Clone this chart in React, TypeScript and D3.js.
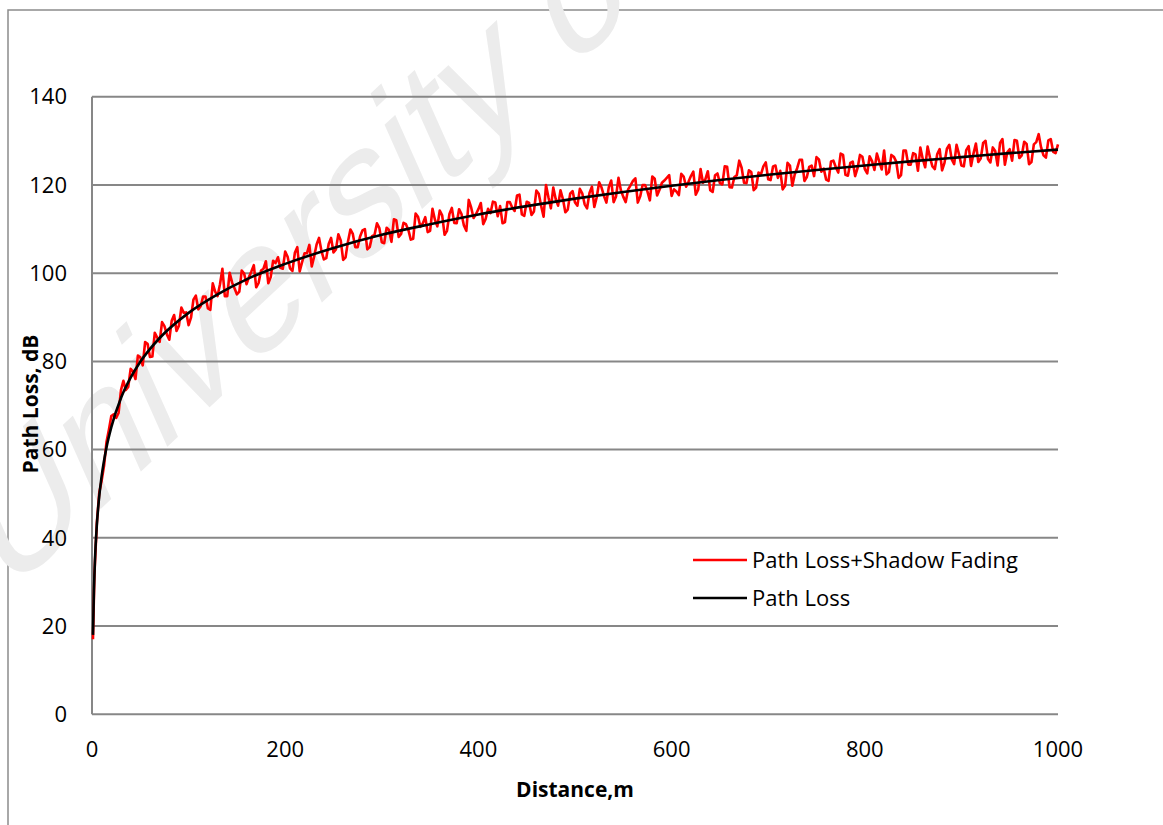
import * as d3 from "d3";

// Path Loss (black) read at selected distances
const lossDistance = [1, 2, 3, 5, 7, 10, 15, 20, 30, 40, 50, 70, 100, 130, 160, 200, 250, 300, 350, 400, 450, 500, 550, 600, 650, 700, 750, 800, 850, 900, 950, 1000];
const lossValues = [18, 28.1, 34.7, 42.9, 48.3, 54, 60.5, 65.1, 71.7, 76.3, 79.9, 85.3, 91, 95.2, 98.6, 102.1, 105.7, 108.7, 111.1, 113.3, 115.2, 116.9, 118.4, 119.8, 121.1, 122.3, 123.4, 124.4, 125.4, 126.3, 127.2, 128];

// Path Loss + Shadow Fading (red), read at 1 m, then every 5 m
const fadingDistance = [1, ...d3.range(5, 1001, 5)];
const fadingValues = [
  17.0,
  43.4, 53.0, 61.7, 67.6, 67.2, 73.5, 73.5, 78.3, 76.0, 80.9, 84.4, 81.0, 86.5, 84.4, 88.0, 84.9, 90.5, 88.1, 91.0, 88.2,
  94.0, 91.8, 94.7, 92.0, 97.7, 94.8, 101.0, 94.8, 97.9, 95.2, 100.6, 97.5, 100.4, 96.8, 100.6, 102.7, 99.1, 102.3, 101.2, 104.9,
  101.1, 104.6, 100.4, 104.5, 106.4, 103.8, 108.0, 103.1, 106.6, 104.7, 108.8, 103.0, 107.2, 108.9, 105.9, 109.7, 105.4, 108.4, 111.3, 107.0,
  110.3, 107.1, 112.0, 108.9, 111.1, 107.6, 113.5, 110.5, 112.7, 109.6, 112.1, 114.2, 108.7, 113.4, 111.4, 114.5, 110.8, 116.6, 112.5, 114.5,
  111.1, 114.6, 116.2, 112.9, 111.3, 116.1, 114.9, 117.6, 113.3, 116.2, 113.2, 118.7, 115.2, 120.0, 114.7, 116.8, 118.8, 113.8, 118.0, 116.0,
  119.1, 115.6, 118.2, 115.0, 120.6, 117.5, 119.5, 116.1, 121.6, 117.3, 119.0, 120.9, 116.0, 120.0, 118.5, 121.9, 117.6, 120.5, 121.6, 117.5,
  118.5, 122.5, 119.6, 122.0, 117.8, 123.6, 121.3, 118.8, 122.2, 120.4, 124.2, 119.5, 121.8, 125.5, 120.5, 123.3, 118.8, 122.8, 124.2, 121.3,
  124.2, 121.6, 119.0, 125.0, 119.8, 123.8, 125.7, 121.8, 124.4, 126.3, 123.0, 121.2, 125.3, 124.0, 127.1, 122.3, 125.0, 122.0, 126.8, 123.6,
  126.5, 123.4, 125.3, 127.8, 122.9, 126.4, 121.6, 127.8, 124.6, 127.2, 123.2, 125.9, 128.7, 124.2, 127.0, 123.3, 128.2, 125.8, 129.1, 124.4,
  127.9, 124.3, 129.4, 126.0, 130.0, 125.1, 127.7, 129.5, 124.6, 128.1, 130.2, 126.1, 129.8, 124.7, 129.2, 131.5, 126.7, 130.1, 127.5, 129.2,
];

// ...and the in-between samples at 2.5, 7.5, ... 997.5 m
const fadingMidDistance = d3.range(2.5, 1000, 5);
const fadingMidValues = [
  31.7, 50.2, 56.4, 64.5, 68.0, 68.3, 75.6, 74.2, 77.7, 81.3, 79.1, 84.0, 81.1, 85.4, 88.9, 86.1, 89.2, 86.9, 92.2, 91.1,
  89.9, 94.9, 92.5, 94.7, 91.7, 95.8, 97.5, 94.8, 100.1, 96.6, 95.8, 99.9, 99.1, 101.8, 97.8, 101.0, 97.7, 102.8, 103.6, 101.0,
  103.7, 100.5, 105.9, 102.5, 104.5, 101.5, 106.5, 105.1, 103.4, 108.0, 105.4, 107.4, 103.6, 109.9, 105.9, 108.3, 110.0, 105.9, 108.7, 110.2,
  106.8, 109.8, 112.2, 108.2, 111.4, 109.8, 107.8, 112.8, 111.3, 109.3, 114.6, 110.6, 113.1, 109.6, 114.8, 111.3, 113.4, 109.6, 114.9, 113.4,
  115.9, 112.3, 113.6, 116.0, 115.2, 111.6, 116.1, 114.1, 117.8, 113.0, 115.9, 114.0, 118.0, 112.8, 117.2, 119.4, 115.3, 116.8, 114.4, 118.6,
  115.3, 118.1, 114.7, 119.6, 117.2, 119.4, 116.0, 121.0, 117.4, 118.8, 116.1, 119.9, 121.5, 117.4, 120.0, 116.5, 121.4, 118.9, 121.0, 122.2,
  119.0, 117.7, 121.9, 120.7, 123.0, 118.9, 120.5, 123.1, 118.4, 122.6, 120.1, 124.1, 119.4, 122.2, 123.9, 120.4, 122.9, 119.4, 122.4, 125.1,
  121.1, 124.4, 123.2, 119.8, 124.4, 122.4, 125.7, 120.9, 124.1, 122.0, 125.8, 123.7, 120.9, 125.5, 122.8, 126.8, 122.1, 125.3, 123.8, 126.4,
  122.6, 125.4, 127.1, 123.5, 122.4, 126.8, 125.3, 122.2, 127.8, 124.6, 126.9, 128.5, 124.0, 126.2, 123.6, 128.1, 125.0, 129.1, 124.7, 127.0,
  124.2, 128.8, 127.1, 125.2, 129.5, 125.9, 128.5, 124.4, 130.4, 127.4, 125.5, 130.0, 126.7, 129.3, 125.2, 129.7, 128.5, 126.2, 130.4, 127.2,
];

const yTicks = [0, 20, 40, 60, 80, 100, 120, 140];
const xTicks = [0, 200, 400, 600, 800, 1000];
const seriesNames = ["Path Loss+Shadow Fading", "Path Loss"];

const WIDTH = 1163;
const HEIGHT = 825;
const FONT = "'Open Sans', Lato, sans-serif";

export default function App() {
  const x = d3.scaleLinear().domain([0, 1000]).range([92, 1058]);
  const y = d3.scaleLinear().domain([0, 140]).range([714.3, 96.7]);

  const redLine = d3
    .line<[number, number]>()
    .x((d) => x(d[0]))
    .y((d) => y(d[1]));

  const blackLine = d3
    .line<[number, number]>()
    .x((d) => x(d[0]))
    .y((d) => y(d[1]))
    .curve(d3.curveMonotoneX);

  const fading = (
    [...d3.zip(fadingDistance, fadingValues), ...d3.zip(fadingMidDistance, fadingMidValues)] as [number, number][]
  ).sort((a, b) => a[0] - b[0]);
  const loss = d3.zip(lossDistance, lossValues) as [number, number][];

  return (
    <svg
      width={WIDTH}
      height={HEIGHT}
      style={{ position: "absolute", left: 0, top: 0, background: "#fff" }}
      fontFamily={FONT}
    >
      {/* chart area border */}
      <rect x={8} y={10} width={1200} height={900} fill="none" stroke="#8c8c8c" strokeWidth={1.5} />

      {/* watermark */}
      <text
        transform="translate(5,598) rotate(-43) skewX(-19)"
        fontFamily="'Liberation Sans', Arial, sans-serif"
        fontSize={165}
        fill="#ececec"
      >
        University of Cape Town
      </text>

      {/* gridlines */}
      {yTicks.map((t) => (
        <line key={t} x1={x(0)} x2={x(1000)} y1={y(t)} y2={y(t)} stroke="#878787" strokeWidth={2} />
      ))}
      <line x1={x(0)} x2={x(0)} y1={y(0)} y2={y(140)} stroke="#878787" strokeWidth={2} />

      {/* y tick labels */}
      {yTicks.map((t) => (
        <text key={t} x={67} y={y(t)} dy="0.35em" textAnchor="end" fontSize={22} fill="#000">
          {t}
        </text>
      ))}
      {/* x tick labels */}
      {xTicks.map((t) => (
        <text key={t} x={x(t)} y={757} textAnchor="middle" fontSize={22} fill="#000">
          {t}
        </text>
      ))}

      {/* series */}
      <path d={redLine(fading) ?? ""} fill="none" stroke="#ff0000" strokeWidth={2.6} strokeLinejoin="round" />
      <path d={blackLine(loss) ?? ""} fill="none" stroke="#000" strokeWidth={2.6} />

      {/* axis titles */}
      <text x={575} y={797} textAnchor="middle" fontSize={21} fontWeight="bold">
        Distance,m
      </text>
      <text transform="translate(38,404) rotate(-90)" textAnchor="middle" fontSize={21} fontWeight="bold">
        Path Loss, dB
      </text>

      {/* legend */}
      {seriesNames.map((name, i) => (
        <g key={name} transform={`translate(693,${560 + i * 38})`}>
          <line x1={0} x2={54} y1={0} y2={0} stroke={i === 0 ? "#ff0000" : "#000"} strokeWidth={2.6} />
          <text x={59} y={0} dy="0.35em" fontSize={22}>
            {name}
          </text>
        </g>
      ))}
    </svg>
  );
}
